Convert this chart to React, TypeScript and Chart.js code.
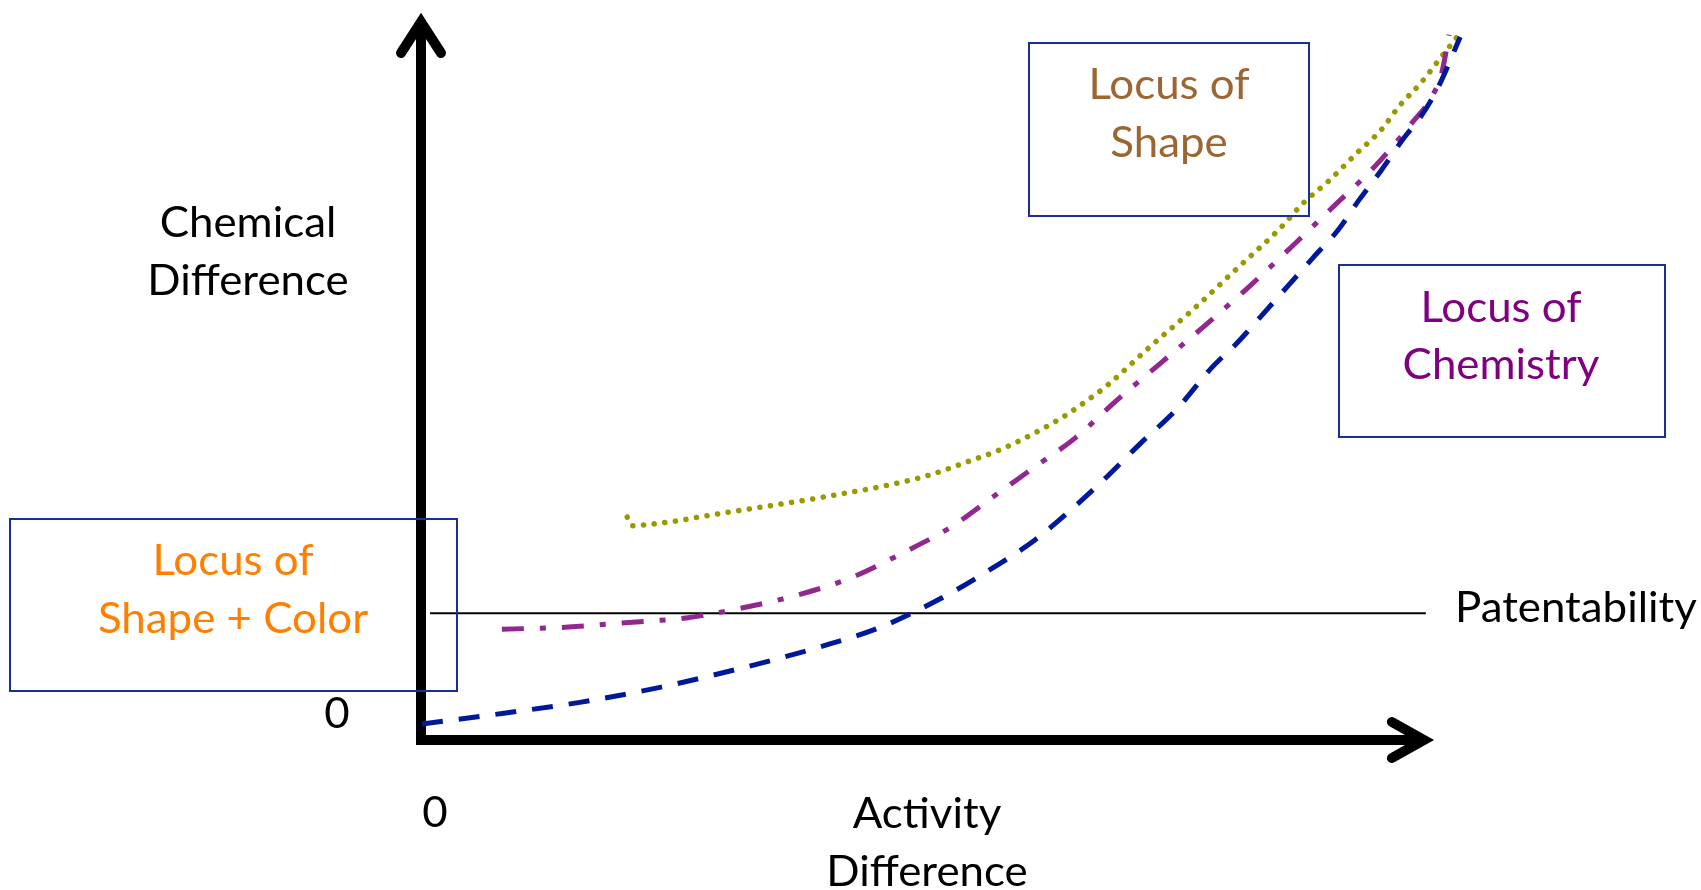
import React, { useEffect, useRef } from "react";
import { Chart, registerables } from "chart.js";

Chart.register(...registerables);

// ---- Data (Activity Difference on x, Chemical Difference on y; both in 0..100 units) ----
const chemistryX = [0.1, 8.2, 15.7, 23.4, 32.2, 39.3, 45.5, 52.4, 56.6, 60.7, 64.3, 67.8, 71.2, 74.7, 78.2, 80.7, 83.4, 86.0, 88.3, 90.7, 92.8, 95.0, 97.1, 99.0, 100.6, 102.8];
const chemistryY = [2.2, 3.7, 5.2, 7.2, 10.1, 12.8, 15.6, 20.3, 23.8, 27.6, 31.8, 36.3, 41.0, 45.6, 51.4, 54.8, 59.0, 63.1, 66.7, 70.4, 74.6, 78.7, 82.9, 86.3, 90.1, 97.1];

const shapeColorX = [8.0, 14.6, 20.2, 26.4, 31.6, 37.2, 42.7, 47.6, 52.4, 56.6, 60.7, 64.7, 68.9, 73.2, 77.6, 81.9, 86.1, 90.2, 94.4, 98.0, 100.1, 101.0, 101.7];
const shapeColorY = [15.3, 15.6, 16.2, 16.9, 18.2, 20.0, 22.5, 25.8, 29.4, 33.6, 37.7, 41.7, 47.0, 52.1, 57.3, 62.6, 68.1, 73.6, 79.3, 85.2, 89.1, 92.3, 97.4];

const shapeX = [20.4, 20.9, 22.0, 25.0, 28.8, 32.9, 37.9, 42.0, 46.2, 50.3, 53.8, 57.3, 60.7, 63.5, 65.7, 67.9, 72.1, 76.4, 80.7, 85.0, 87.3, 89.7, 92.6, 95.0, 96.8, 99.0, 100.9, 102.9];
const shapeY = [30.8, 29.6, 29.7, 30.2, 31.1, 32.0, 33.1, 34.1, 35.2, 36.6, 38.3, 40.1, 42.4, 44.6, 46.7, 49.0, 54.3, 59.5, 65.1, 70.7, 74.2, 77.1, 81.1, 84.3, 87.6, 90.9, 94.3, 97.8];

const patentabilityX = [0.9, 99.4];
const patentabilityY = [17.5, 17.5];

const axisTicksX = ["0"];
const axisTicksY = ["0"];
const yTitle = ["Chemical", "Difference"];
const xTitle = ["Activity", "Difference"];
const patentLabel = "Patentability";
const boxShapeColor = ["Locus of", "Shape + Color"];
const boxShape = ["Locus of", "Shape"];
const boxChemistry = ["Locus of", "Chemistry"];

const X_ARROW_END = 100;
const Y_ARROW_END = 100;

const FONT_FAMILY = "Lato";
const FONT_SIZE = 43;
const SQUEEZE = 1.02;

const toPoints = (xs: number[], ys: number[]) => xs.map((x, i) => ({ x, y: ys[i] }));

function drawText(ctx: CanvasRenderingContext2D, text: string, x: number, y: number, color: string, align: "center" | "left" = "center") {
  ctx.save();
  ctx.translate(x, y);
  ctx.scale(SQUEEZE, 1);
  ctx.font = `${FONT_SIZE}px ${FONT_FAMILY}`;
  ctx.fillStyle = color;
  ctx.textAlign = align;
  ctx.textBaseline = "alphabetic";
  ctx.fillText(text, 0, 0);
  ctx.restore();
}

const diagramPlugin = {
  id: "diagram",
  beforeDatasetsDraw(chart: any) {
    const { ctx, scales } = chart;
    const xs = scales.x;
    const ys = scales.y;
    const x0 = xs.getPixelForValue(0);
    const y0 = ys.getPixelForValue(0);
    const xTip = xs.getPixelForValue(X_ARROW_END);
    const yTip = ys.getPixelForValue(Y_ARROW_END);
    ctx.save();
    ctx.strokeStyle = "#000";
    ctx.lineWidth = 10;
    ctx.lineCap = "butt";
    ctx.beginPath();
    ctx.moveTo(x0, y0);
    ctx.lineTo(x0, yTip + 8);
    ctx.stroke();
    ctx.beginPath();
    ctx.moveTo(x0 - 5, y0);
    ctx.lineTo(xTip - 8, y0);
    ctx.stroke();
    ctx.lineCap = "round";
    ctx.lineJoin = "miter";
    ctx.miterLimit = 10;
    ctx.beginPath();
    ctx.moveTo(x0 - 20, yTip + 37);
    ctx.lineTo(x0, yTip + 6);
    ctx.lineTo(x0 + 20, yTip + 37);
    ctx.stroke();
    ctx.beginPath();
    ctx.moveTo(xTip - 40, y0 - 18);
    ctx.lineTo(xTip - 8, y0);
    ctx.lineTo(xTip - 40, y0 + 18);
    ctx.stroke();
    ctx.restore();
  },
  afterDatasetsDraw(chart: any) {
    const { ctx } = chart;
    ctx.save();
    ctx.strokeStyle = "#1A2E99";
    ctx.lineWidth = 2;
    ctx.strokeRect(10, 519, 447, 172);
    ctx.strokeRect(1029, 43, 280, 173);
    ctx.strokeRect(1339, 265, 326, 172);
    ctx.restore();

    drawText(ctx, yTitle[0], 248, 237, "#000");
    drawText(ctx, yTitle[1], 248, 295, "#000");
    drawText(ctx, xTitle[0], 927, 828, "#000");
    drawText(ctx, xTitle[1], 927, 886, "#000");
    drawText(ctx, axisTicksY[0], 337, 728, "#000");
    drawText(ctx, axisTicksX[0], 435, 827, "#000");
    drawText(ctx, patentLabel, 1455, 622, "#000", "left");

    drawText(ctx, boxShapeColor[0], 233, 575, "#FF8000");
    drawText(ctx, boxShapeColor[1], 233, 633, "#FF8000");
    drawText(ctx, boxShape[0], 1169, 99, "#9C6633");
    drawText(ctx, boxShape[1], 1169, 157, "#9C6633");
    drawText(ctx, boxChemistry[0], 1501, 322, "#800080");
    drawText(ctx, boxChemistry[1], 1501, 379, "#800080");
  },
};

export default function App() {
  const canvasRef = useRef<HTMLCanvasElement | null>(null);

  useEffect(() => {
    let chart: Chart | null = null;
    let cancelled = false;
    const create = () => {
      if (cancelled || !canvasRef.current) return;
      chart = new Chart(canvasRef.current, {
        type: "line",
        data: {
          datasets: [
            {
              label: "Locus of Chemistry",
              data: toPoints(chemistryX, chemistryY),
              borderColor: "#00199A",
              borderWidth: 5,
              borderDash: [21, 16],
              borderCapStyle: "butt",
              cubicInterpolationMode: "monotone",
              pointRadius: 0,
              fill: false,
              clip: false,
              order: 1,
            },
            {
              label: "Locus of Shape + Color",
              data: toPoints(shapeColorX, shapeColorY),
              borderColor: "#92278F",
              borderWidth: 5,
              borderDash: [22, 16, 6, 16],
              borderCapStyle: "butt",
              cubicInterpolationMode: "monotone",
              pointRadius: 0,
              fill: false,
              clip: false,
              order: 2,
            },
            {
              label: "Locus of Shape",
              data: toPoints(shapeX, shapeY),
              borderColor: "#999900",
              borderWidth: 5.5,
              borderDash: [0.1, 10.6],
              borderCapStyle: "round",
              cubicInterpolationMode: "monotone",
              pointRadius: 0,
              fill: false,
              clip: false,
              order: 3,
            },
            {
              label: "Patentability",
              data: toPoints(patentabilityX, patentabilityY),
              borderColor: "#000",
              borderWidth: 2,
              pointRadius: 0,
              fill: false,
              clip: false,
              order: 4,
            },
          ],
        },
        options: {
          responsive: false,
          animation: false,
          devicePixelRatio: 1,
          layout: { padding: { left: 421, right: 168, top: 16, bottom: 150 } },
          scales: {
            x: { type: "linear", min: 0, max: 110, display: false },
            y: { type: "linear", min: 0, max: 100, display: false },
          },
          plugins: {
            legend: { display: false },
            tooltip: { enabled: false },
          },
          events: [],
        },
        plugins: [diagramPlugin],
      } as any);
    };
    const fontsApi = (document as any).fonts;
    if (fontsApi && fontsApi.load) {
      fontsApi.load(`${FONT_SIZE}px ${FONT_FAMILY}`).then(create, create);
    } else {
      create();
    }
    return () => {
      cancelled = true;
      if (chart) chart.destroy();
    };
  }, []);

  return (
    <div style={{ position: "fixed", left: 0, top: 0, width: 1701, height: 890, background: "#fff" }}>
      <canvas ref={canvasRef} width={1701} height={890} style={{ width: 1701, height: 890 }} />
    </div>
  );
}
